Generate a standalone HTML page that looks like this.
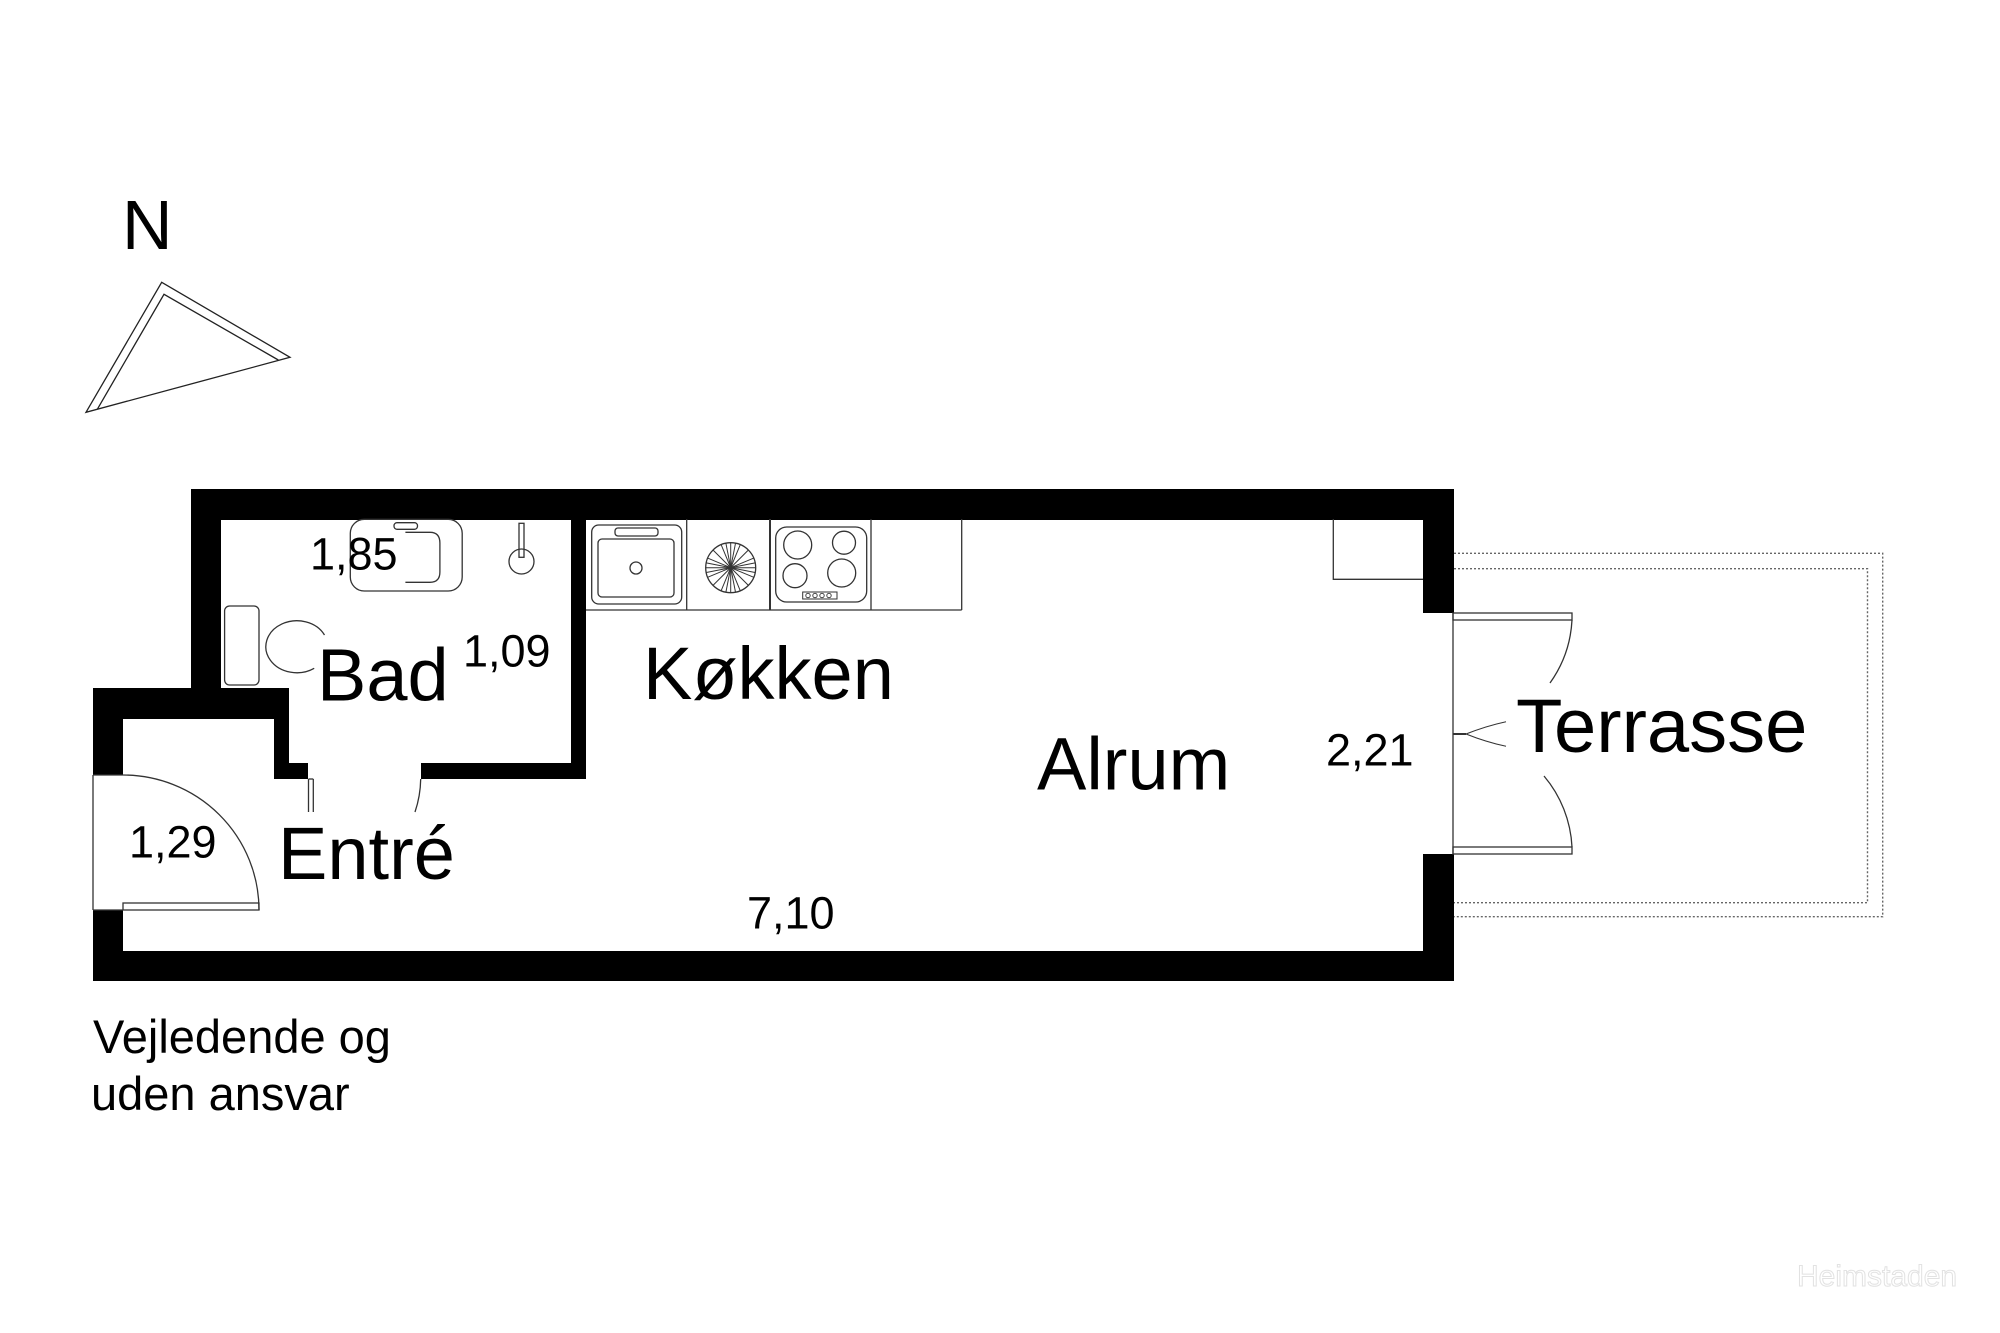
<!DOCTYPE html>
<html>
<head>
<meta charset="utf-8">
<style>
  html,body{margin:0;padding:0;background:#fff;}
  svg{display:block;}
  text{font-family:"Liberation Sans", Arial, sans-serif; fill:#000;}
</style>
</head>
<body>
<svg width="2000" height="1333" viewBox="0 0 2000 1333" xmlns="http://www.w3.org/2000/svg">
  <rect x="0" y="0" width="2000" height="1333" fill="#fff"/>

  <!-- North arrow -->
  <text x="122" y="249" font-size="70">N</text>
  <polygon points="161.7,282.3 290,357.3 86,412.3" fill="none" stroke="#222" stroke-width="1.3"/>
  <polyline points="97.3,409.3 164,294.3 278.3,360" fill="none" stroke="#222" stroke-width="1.3"/>

  <!-- Terrace dotted outlines -->
  <g fill="none" stroke="#666" stroke-width="1.4" stroke-dasharray="2,2">
    <polyline points="1454,553.3 1882.7,553.3 1882.7,916.7 1454,916.7"/>
    <polyline points="1454,568.7 1867.5,568.7 1867.5,902.7 1454,902.7"/>
  </g>

  <!-- Walls -->
  <g fill="#000">
    <rect x="191" y="489" width="1263" height="31"/>
    <rect x="1423" y="489" width="31" height="124"/>
    <rect x="1423" y="854" width="31" height="127"/>
    <rect x="93" y="951" width="1361" height="30"/>
    <rect x="93" y="910" width="30" height="71"/>
    <rect x="93" y="688" width="30" height="87"/>
    <rect x="93" y="688" width="196" height="31"/>
    <rect x="191" y="489" width="30" height="230"/>
    <rect x="221" y="703" width="68" height="16"/>
    <rect x="274" y="719" width="15" height="60"/>
    <rect x="289" y="763" width="19" height="16"/>
    <rect x="571" y="489" width="15" height="290"/>
    <rect x="421" y="763" width="165" height="16"/>
  </g>

  <!-- Thin lines: doors, fixtures -->
  <g fill="none" stroke="#333" stroke-width="1.3">
    <!-- Entry door -->
    <line x1="93" y1="775" x2="93" y2="910"/>
    <line x1="93" y1="775" x2="123" y2="775"/>
    <rect x="123" y="903" width="136" height="7"/>
    <line x1="93" y1="910" x2="123" y2="910"/>
    <path d="M123,775 A136,135 0 0 1 259,910"/>

    <!-- Bad door -->
    <line x1="308.5" y1="779" x2="308.5" y2="812"/>
    <line x1="313.3" y1="779" x2="313.3" y2="812"/>
    <line x1="308.5" y1="779" x2="313.3" y2="779"/>
    <path d="M420.7,779 A108,108 0 0 1 415,812"/>

    <!-- Washbasin -->
    <rect x="350.3" y="519.3" width="111.9" height="71.7" rx="14"/>
    <path d="M405.4,532.3 L430,532.3 Q439.9,532.3 439.9,543 L439.9,572 Q439.9,582.3 430,582.3 L405.4,582.3"/>
    <rect x="394" y="522.7" width="23.5" height="6.6" rx="3"/>

    <!-- Shower -->
    <rect x="519" y="523.3" width="5" height="34"/>
    <circle cx="521.5" cy="561.5" r="12.5"/>

    <!-- Toilet -->
    <rect x="224.6" y="606" width="34.4" height="79" rx="5"/>
    <path d="M324.5,635 A31,26 0 1 0 314.2,668.3"/>

    <!-- Kitchen counter -->
    <line x1="586" y1="610" x2="961.7" y2="610"/>
    <line x1="686.7" y1="519" x2="686.7" y2="610"/>
    <line x1="770" y1="519" x2="770" y2="610" stroke-width="2"/>
    <line x1="871" y1="519" x2="871" y2="610"/>
    <line x1="961.7" y1="519" x2="961.7" y2="610"/>

    <!-- Sink -->
    <rect x="591.7" y="525" width="90" height="79" rx="7"/>
    <rect x="598" y="539" width="76" height="58" rx="4"/>
    <rect x="615" y="528" width="43" height="8" rx="3"/>
    <circle cx="636" cy="568" r="6"/>

    <!-- Dishwasher wheel -->
    <circle cx="730.7" cy="567.7" r="25"/>
    <g stroke-width="1">
      <line x1="705.7" y1="567.7" x2="755.7" y2="567.7"/>
      <line x1="730.7" y1="542.7" x2="730.7" y2="592.7"/>
      <line x1="713" y1="550" x2="748.4" y2="585.4"/>
      <line x1="748.4" y1="550" x2="713" y2="585.4"/>
      <line x1="707.6" y1="558.1" x2="753.8" y2="577.3"/>
      <line x1="707.6" y1="577.3" x2="753.8" y2="558.1"/>
      <line x1="721.1" y1="544.6" x2="740.3" y2="590.8"/>
      <line x1="740.3" y1="544.6" x2="721.1" y2="590.8"/>
      <line x1="706.3" y1="562.9" x2="755.1" y2="572.5"/>
      <line x1="706.3" y1="572.5" x2="755.1" y2="562.9"/>
      <line x1="725.9" y1="543.3" x2="735.5" y2="592.1"/>
      <line x1="735.5" y1="543.3" x2="725.9" y2="592.1"/>
    </g>

    <!-- Hob -->
    <rect x="775.7" y="527" width="91" height="75" rx="11"/>
    <circle cx="797.7" cy="545" r="14"/>
    <circle cx="844" cy="542.7" r="11.5"/>
    <circle cx="795" cy="575.7" r="12"/>
    <circle cx="841.7" cy="573" r="14"/>
    <rect x="802.7" y="592" width="34.3" height="7" stroke-width="1"/>
    <g stroke-width="0.9">
      <circle cx="808" cy="595.5" r="2.2"/>
      <circle cx="815" cy="595.5" r="2.2"/>
      <circle cx="822" cy="595.5" r="2.2"/>
      <circle cx="829" cy="595.5" r="2.2"/>
    </g>

    <!-- Wardrobe box in Alrum -->
    <polyline points="1423,579.3 1333.3,579.3 1333.3,519"/>

    <!-- Terrace door -->
    <line x1="1453" y1="613" x2="1453" y2="854"/>
    <rect x="1453" y="613" width="119" height="7"/>
    <rect x="1453" y="847" width="119" height="7"/>
    <path d="M1572,620 A119,119 0 0 1 1550,683"/>
    <path d="M1544,776 A119,119 0 0 1 1572,847"/>
    <line x1="1453" y1="734" x2="1466" y2="734" stroke-width="2"/>
    <path d="M1466,734 Q1486,726 1506,721.7" stroke-width="1"/>
    <path d="M1466,734 Q1486,742 1506,746.3" stroke-width="1"/>
  </g>

  <!-- Labels -->
  <text x="310" y="569.3" font-size="45">1,85</text>
  <text x="463" y="666.7" font-size="45">1,09</text>
  <text x="317" y="700.7" font-size="74">Bad</text>
  <text x="643" y="699" font-size="74">Køkken</text>
  <text x="1037" y="789.3" font-size="74">Alrum</text>
  <text x="1326" y="765.7" font-size="45">2,21</text>
  <text x="1516" y="752" font-size="76">Terrasse</text>
  <text x="129" y="857.3" font-size="45">1,29</text>
  <text x="278" y="879" font-size="74">Entré</text>
  <text x="747" y="928.3" font-size="45">7,10</text>

  <text x="93" y="1053" font-size="47">Vejledende og</text>
  <text x="91" y="1110" font-size="47">uden ansvar</text>

  <!-- Watermark -->
  <text x="1797" y="1286" font-size="30" fill="#fff" stroke="#e2e2e2" stroke-width="1" style="fill:#fff">Heimstaden</text>
</svg>
</body>
</html>
